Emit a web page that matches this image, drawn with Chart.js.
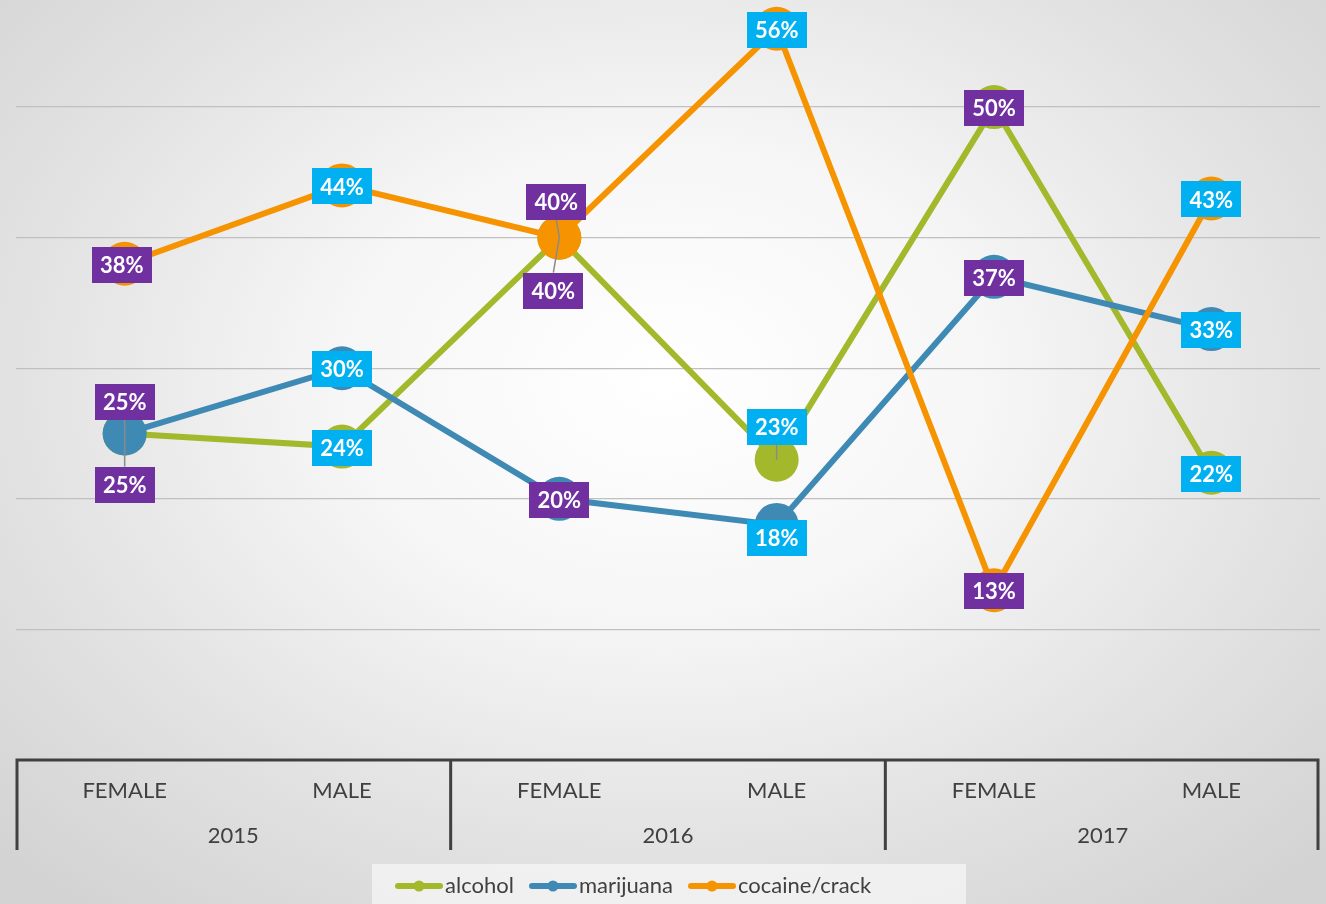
<!DOCTYPE html>
<html>
<head>
<meta charset="utf-8">
<title>Substance use by gender</title>
<script src="https://cdn.jsdelivr.net/npm/chart.js@4.4.1/dist/chart.umd.min.js"></script>
<style>
  html, body { margin: 0; padding: 0; overflow: hidden; }
  body {
    width: 1326px; height: 904px;
    background: radial-gradient(ellipse 70% 75% at 50% 42%, #ffffff 0%, #f6f6f6 35%, #e2e2e2 70%, #d3d3d3 100%);
  }
  canvas { display: block; }
</style>
</head>
<body>
<canvas id="chart" width="1326" height="904"></canvas>
<script>
// Data
const genders = ['FEMALE', 'MALE', 'FEMALE', 'MALE', 'FEMALE', 'MALE'];
const years = ['2015', '2016', '2017'];
const seriesNames = ['alcohol', 'marijuana', 'cocaine/crack'];
const alcohol = [25, 24, 40, 23, 50, 22];
const marijuana = [25, 30, 20, 18, 37, 33];
const cocaine = [38, 44, 40, 56, 13, 43];
const gridTicks = [10, 20, 30, 40, 50];

// Styling
const seriesColors = ['#a3b92b', '#3f8ab5', '#f59400'];
const femaleBox = '#7030a0';
const maleBox = '#00b0f0';
const textGray = '#404040';
const FONT = "Lato, 'Open Sans', sans-serif";
const legendX = [395, 529, 688];

// label nudges [dx, dy] per series / point (px)
const labelNudge = [
    [[0, 51], [0, 1], [-6, 53], [0, -33], [0, 1], [0, 1]],
    [[0, -32], [0, 1], [0, 1], [0, 13], [0, 1], [0, 1]],
    [[-3, 1], [0, 1], [-3, -36], [0, 1], [0, 1], [0, 1]]
];

const overlay = {
    id: 'overlay',
    afterDatasetsDraw(chart) {
        const ctx = chart.ctx;
        const xs = chart.scales.x;
        const area = chart.chartArea;
        const pts = genders.map((_, i) => xs.getPixelForValue(i));
        const step = pts[1] - pts[0];

        // data labels
        ctx.save();
        ctx.font = `bold 22px ${FONT}`;
        ctx.textAlign = 'center';
        ctx.textBaseline = 'middle';
        chart.data.datasets.forEach((ds, di) => {
            const meta = chart.getDatasetMeta(di);
            meta.data.forEach((el, i) => {
                const [dx, dy] = labelNudge[di][i];
                const lx = el.x + dx, ly = el.y + dy;
                const w = 60, h = 36;
                if (Math.abs(dy) > 10) {
                    ctx.strokeStyle = '#8a8a8a';
                    ctx.lineWidth = 1.5;
                    ctx.beginPath();
                    ctx.moveTo(el.x, el.y);
                    ctx.lineTo(lx, ly + (dy > 0 ? -h / 2 : h / 2));
                    ctx.stroke();
                }
                ctx.fillStyle = i % 2 === 0 ? femaleBox : maleBox;
                ctx.fillRect(Math.round(lx - w / 2), Math.round(ly - h / 2), w, h);
                ctx.fillStyle = '#ffffff';
                ctx.fillText(ds.data[i] + '%', lx, ly + 1);
            });
        });
        ctx.restore();

        // category table
        const top = area.bottom;
        const left = pts[0] - step / 2 + 1;
        const right = pts[pts.length - 1] + step / 2 - 2;
        ctx.save();
        ctx.strokeStyle = '#404040';
        ctx.lineWidth = 3;
        ctx.beginPath();
        ctx.moveTo(left, top);
        ctx.lineTo(right, top);
        for (let g = 0; g <= years.length; g++) {
            const x = g === 0 ? left : (g === years.length ? right : pts[g * 2] - step / 2);
            ctx.moveTo(x, top - 1.5);
            ctx.lineTo(x, top + 90);
        }
        ctx.stroke();

        ctx.fillStyle = textGray;
        ctx.font = `22px ${FONT}`;
        ctx.textAlign = 'center';
        ctx.textBaseline = 'middle';
        genders.forEach((g, i) => ctx.fillText(g, pts[i], top + 31));
        years.forEach((y, i) => ctx.fillText(y, (pts[i * 2] + pts[i * 2 + 1]) / 2, top + 76));

        // legend
        ctx.fillStyle = 'rgba(245,245,245,0.75)';
        ctx.fillRect(372, 864, 594, 40);
        ctx.font = `22px ${FONT}`;
        ctx.textAlign = 'left';
        const lineW = 48;
        const ly = 886;
        seriesNames.forEach((n, i) => {
            const x = legendX[i];
            ctx.strokeStyle = seriesColors[i];
            ctx.lineWidth = 6;
            ctx.lineCap = 'round';
            ctx.beginPath();
            ctx.moveTo(x + 3, ly);
            ctx.lineTo(x + lineW - 3, ly);
            ctx.stroke();
            ctx.fillStyle = seriesColors[i];
            ctx.beginPath();
            ctx.arc(x + lineW / 2, ly, 5.5, 0, Math.PI * 2);
            ctx.fill();
            ctx.fillStyle = textGray;
            ctx.fillText(n, x + lineW + 2, ly);
        });
        ctx.restore();
    }
};

const makeSet = (label, data, color, order) => ({
    label,
    data,
    order,
    borderColor: color,
    backgroundColor: color,
    pointBackgroundColor: color,
    pointBorderColor: color,
    borderWidth: 6,
    pointRadius: 22,
    pointBorderWidth: 0,
    pointHoverRadius: 22,
    tension: 0,
    clip: false
});

new Chart(document.getElementById('chart'), {
    type: 'line',
    data: {
        labels: genders,
        datasets: [
            makeSet(seriesNames[0], alcohol, seriesColors[0], 3),
            makeSet(seriesNames[1], marijuana, seriesColors[1], 2),
            makeSet(seriesNames[2], cocaine, seriesColors[2], 1)
        ]
    },
    plugins: [overlay],
    options: {
        responsive: false,
        animation: false,
        layout: { autoPadding: false, padding: { left: 16, right: 6, top: 0, bottom: 144 } },
        scales: {
            x: { display: false, offset: true },
            y: {
                min: 0,
                max: 58.2,
                afterBuildTicks: s => { s.ticks = gridTicks.map(v => ({ value: v })); },
                afterFit: s => { s.width = 0; },
                ticks: { display: false },
                border: { display: false },
                grid: { color: '#c0c0c0', lineWidth: 1.2, drawTicks: false }
            }
        },
        plugins: {
            legend: { display: false },
            tooltip: { enabled: false }
        }
    }
});
</script>
</body>
</html>
